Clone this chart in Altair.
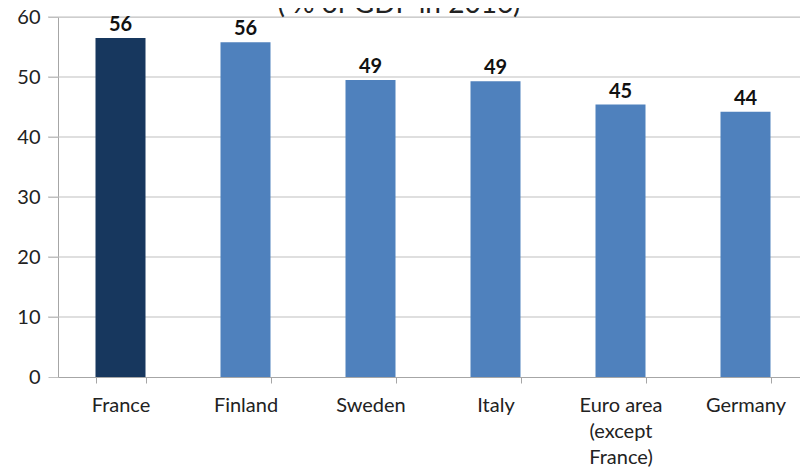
import altair as alt
import pandas as pd

countries = ["France", "Finland", "Sweden", "Italy", "Euro area\n(except\nFrance)", "Germany"]
values = [56.5, 55.8, 49.5, 49.3, 45.4, 44.2]
labels = ["56", "56", "49", "49", "45", "44"]
highlight = [True, False, False, False, False, False]
y_ticks = [0, 10, 20, 30, 40, 50, 60]
title_text = "( % of GDP in 2016)"

df = pd.DataFrame({"country": countries, "value": values, "label": labels, "hl": highlight})
grid_df = pd.DataFrame({"y": y_ticks[1:]})

FONT = "Lato"

x_enc = alt.X(
    "country:N",
    sort=countries,
    scale=alt.Scale(paddingInner=0.6, paddingOuter=0.3, range=[0, 750]),
    axis=alt.Axis(
        title=None,
        labelAngle=0,
        labelFontSize=20,
        labelFont=FONT,
        labelColor="#222222",
        labelExpr="split(datum.label, '\\n')",
        labelLineHeight=26,
        labelPadding=12,
        labelBaseline="top",
        tickBand="extent",
        tickSize=6,
        tickColor="#a6a6a6",
        domainColor="#a6a6a6",
        grid=False,
    ),
)

y_scale = alt.Scale(domain=[0, 60], nice=False)

grid = alt.Chart(grid_df).mark_rule(color="#bfbfbf", strokeWidth=1).encode(
    y=alt.Y("y:Q", scale=y_scale),
    x=alt.value(-10),
    x2=alt.value(800),
)

bars = alt.Chart(df).mark_bar().encode(
    x=x_enc,
    y=alt.Y(
        "value:Q",
        scale=y_scale,
        axis=alt.Axis(
            title=None,
            values=y_ticks,
            labelFontSize=20,
            labelFont=FONT,
            labelColor="#222222",
            labelPadding=8,
            tickSize=10,
            tickColor="#bfbfbf",
            domainColor="#a6a6a6",
            grid=False,
        ),
    ),
    color=alt.Color(
        "hl:N",
        scale=alt.Scale(domain=[True, False], range=["#17375e", "#4f81bd"]),
        legend=None,
    ),
)

text = alt.Chart(df).mark_text(
    font=FONT, fontSize=20, fontWeight="bold", color="#111111", baseline="alphabetic", dy=-7
).encode(
    x=alt.X("country:N", sort=countries),
    y=alt.Y("value:Q", scale=y_scale),
    text="label:N",
)

title = alt.Chart(pd.DataFrame({"t": [title_text]})).mark_text(
    font=FONT, fontSize=28, color="#222222", baseline="alphabetic", align="center"
).encode(
    x=alt.value(341),
    y=alt.value(-4),
    text="t:N",
)

chart = (
    alt.layer(grid, bars, text, title)
    .properties(
        width=742,
        height=360,
        autosize=alt.AutoSizeParams(type="none"),
        padding={"left": 50, "top": 9, "right": 0, "bottom": 92},
    )
    .configure_view(stroke=None)
    .configure(background="white")
)

chart.save("out.html", embed_options={"renderer": "svg", "actions": False})
